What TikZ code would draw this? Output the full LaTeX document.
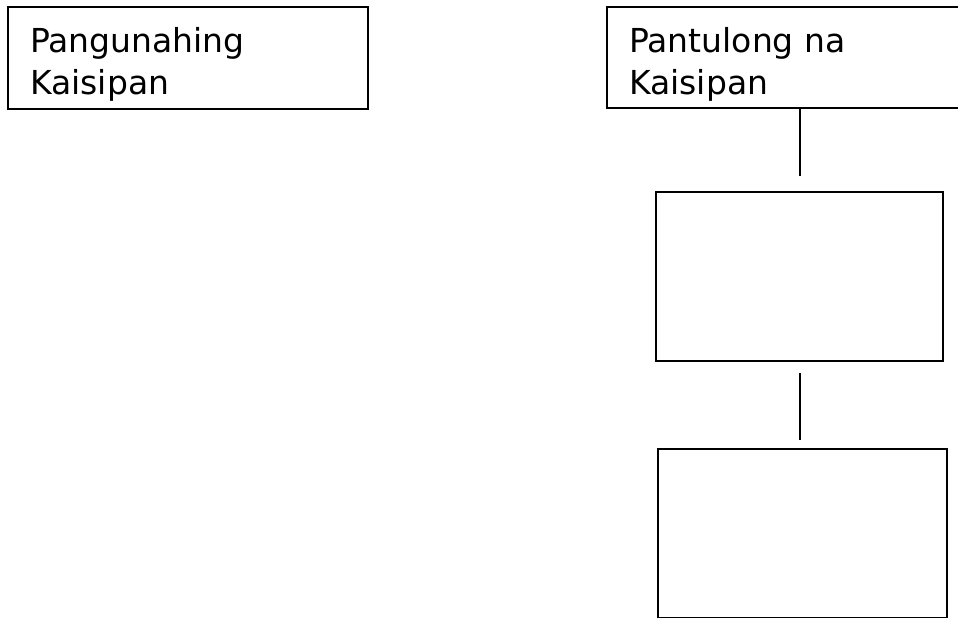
\documentclass[tikz,border=0pt]{standalone}
\usepackage{fontspec}
\setmainfont{DejaVu Sans}
\begin{document}
\begin{tikzpicture}[x=1pt,y=1pt,
  box/.style={draw=black,line width=2pt,anchor=north west,inner sep=0pt},
  boxtext/.style={anchor=base west,inner sep=0pt,align=left,font=\fontsize{33}{42}\selectfont},
  link/.style={draw=black,line width=2pt}]
\useasboundingbox (0,0) rectangle (958,618);
\node[box,minimum width=360pt,minimum height=102pt] (box1) at (7,612) {};
\node[boxtext] (t1) at (30,523) {Pangunahing\\Kaisipan};
\node[box,minimum width=364pt,minimum height=101pt] (box2) at (606,612) {};
\node[boxtext] (t2) at (629,523) {Pantulong na\\Kaisipan};
\node[box,minimum width=287pt,minimum height=169pt] (box3) at (655,427) {};
\node[box,minimum width=289pt,minimum height=169pt] (box4) at (657,170) {};
\draw[link,shorten >=15pt] (box2.south -| box3.north) -- (box3.north);
\draw[link,shorten <=11pt,shorten >=8pt] (box3.south) -- (box3.south |- box4.north);
\end{tikzpicture}
\end{document}
